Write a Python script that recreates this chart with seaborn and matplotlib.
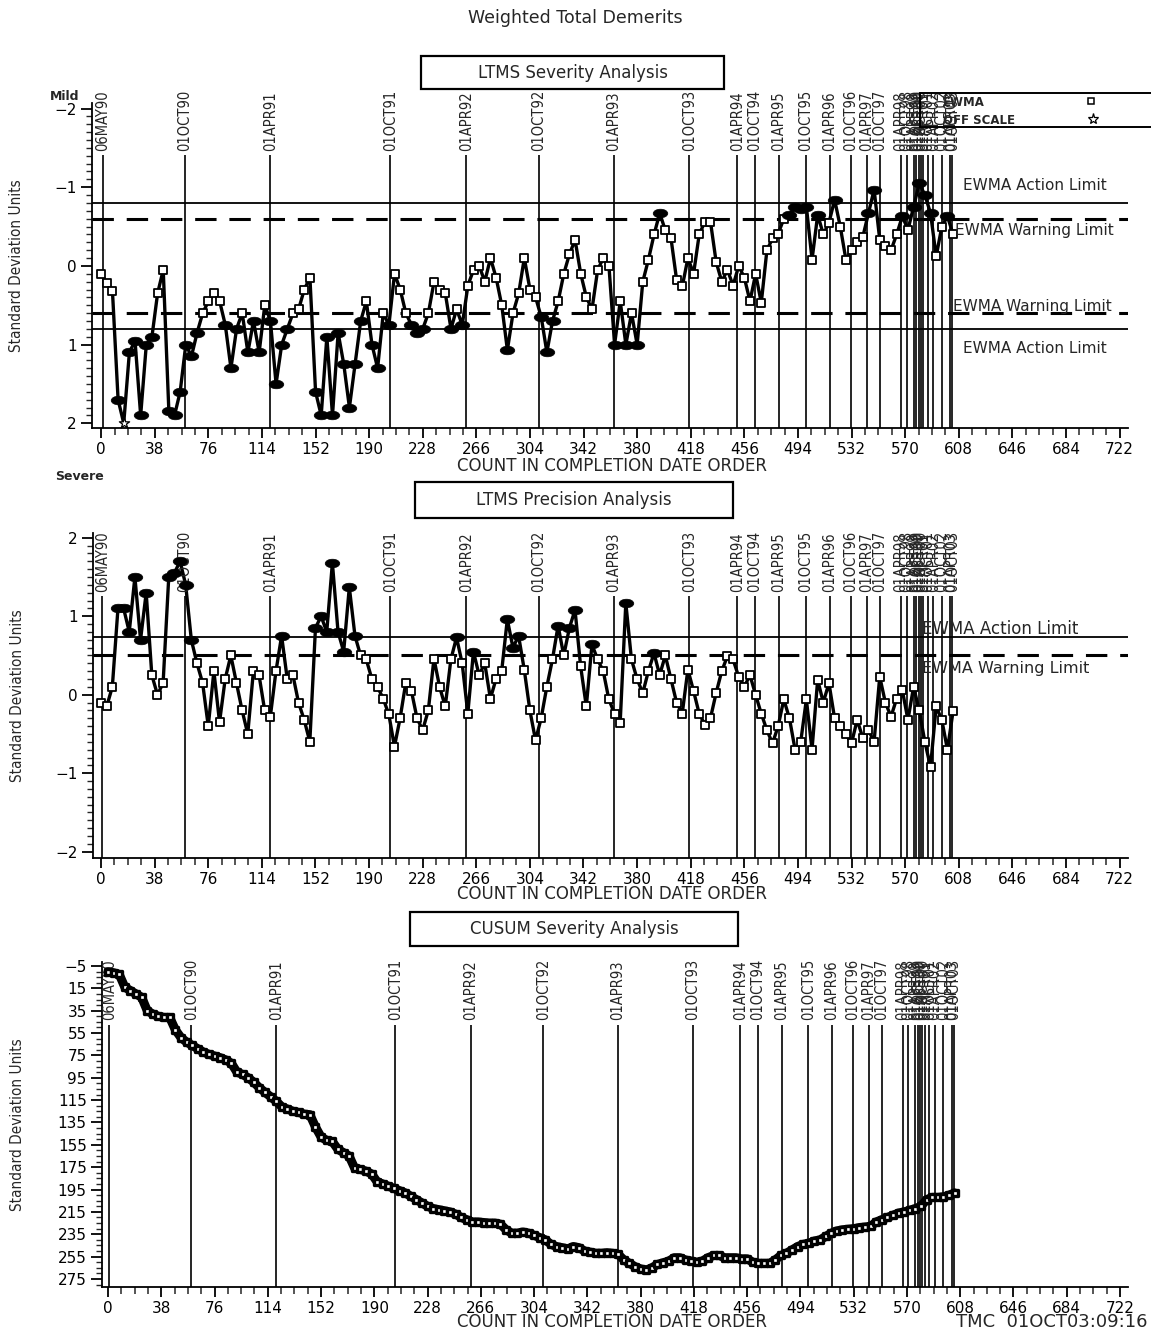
import matplotlib
matplotlib.use("Agg")
import matplotlib.pyplot as plt
import seaborn as sns
from matplotlib import font_manager as fm
from matplotlib.patches import Rectangle
from matplotlib.path import Path
from matplotlib.transforms import Affine2D
from matplotlib.lines import Line2D
from matplotlib.ticker import MultipleLocator, AutoMinorLocator

# ======================
# DATA
# ======================

# count in completion date order (one value every 4 tests)
count = list(range(0, 605, 4))

# LTMS severity EWMA (standard deviation units)
severity = [
    0.1, 0.22, 0.32, 1.7, 2.0, 1.1, 0.95, 1.9, 1.0, 0.9,
    0.35, 0.05, 1.85, 1.9, 1.6, 1.0, 1.15, 0.85, 0.6, 0.45,
    0.35, 0.45, 0.75, 1.3, 0.8, 0.6, 1.1, 0.7, 1.1, 0.5,
    0.7, 1.5, 1.0, 0.8, 0.6, 0.55, 0.3, 0.15, 1.6, 1.9,
    0.9, 1.9, 0.85, 1.25, 1.8, 1.25, 0.7, 0.45, 1.0, 1.3,
    0.6, 0.75, 0.1, 0.3, 0.6, 0.75, 0.85, 0.8, 0.6, 0.2,
    0.3, 0.35, 0.8, 0.55, 0.75, 0.25, 0.05, 0.0, 0.2, -0.1,
    0.15, 0.5, 1.07, 0.6, 0.35, -0.1, 0.3, 0.4, 0.65, 1.1,
    0.7, 0.45, 0.1, -0.15, -0.33, 0.1, 0.4, 0.55, 0.05, -0.1,
    0.0, 1.0, 0.45, 1.0, 0.6, 1.0, 0.2, -0.08, -0.4, -0.67,
    -0.45, -0.35, 0.18, 0.26, -0.1, 0.1, -0.4, -0.56, -0.56, -0.05,
    0.2, 0.05, 0.25, 0.0, 0.15, 0.45, 0.1, 0.47, -0.2, -0.35,
    -0.41, -0.6, -0.65, -0.75, -0.72, -0.75, -0.08, -0.65, -0.4, -0.55,
    -0.84, -0.5, -0.08, -0.2, -0.3, -0.37, -0.67, -0.97, -0.33, -0.25,
    -0.2, -0.4, -0.63, -0.46, -0.75, -1.05, -0.9, -0.67, -0.12, -0.5,
    -0.63, -0.4,
]

# LTMS precision EWMA
precision = [
    -0.1, -0.15, 0.1, 1.1, 1.1, 0.8, 1.5, 0.7, 1.3, 0.25,
    0.0, 0.15, 1.5, 1.55, 1.7, 1.4, 0.7, 0.4, 0.15, -0.4,
    0.3, -0.35, 0.2, 0.5, 0.15, -0.2, -0.5, 0.3, 0.25, -0.2,
    -0.28, 0.3, 0.75, 0.2, 0.25, -0.1, -0.32, -0.6, 0.85, 1.0,
    0.8, 1.68, 0.8, 0.55, 1.37, 0.75, 0.5, 0.45, 0.2, 0.1,
    -0.05, -0.25, -0.66, -0.3, 0.15, 0.05, -0.3, -0.45, -0.2, 0.46,
    0.1, -0.15, 0.45, 0.73, 0.4, -0.24, 0.55, 0.25, 0.4, -0.05,
    0.2, 0.3, 0.96, 0.6, 0.75, 0.32, -0.2, -0.58, -0.3, 0.1,
    0.45, 0.88, 0.5, 0.85, 1.08, 0.36, -0.15, 0.64, 0.45, 0.3,
    -0.06, -0.24, -0.36, 1.17, 0.45, 0.2, 0.02, 0.3, 0.53, 0.25,
    0.5, 0.2, -0.1, -0.24, 0.32, 0.05, -0.24, -0.38, -0.3, 0.02,
    0.3, 0.49, 0.45, 0.23, 0.1, 0.25, 0.0, -0.24, -0.45, -0.62,
    -0.4, -0.06, -0.3, -0.7, -0.6, -0.06, -0.7, 0.19, -0.1, 0.15,
    -0.3, -0.4, -0.5, -0.62, -0.32, -0.55, -0.45, -0.6, 0.23, -0.1,
    -0.28, -0.05, 0.06, -0.32, 0.1, -0.2, -0.6, -0.92, -0.15, -0.32,
    -0.7, -0.21,
]

# CUSUM severity
cusum = [
    0, 1, 2.5, 14, 17, 20, 23, 35, 38, 40,
    41, 41, 52, 59, 63, 66, 69, 72, 74, 75.5,
    77, 79, 82, 90, 92, 95, 99, 104, 108, 112,
    116, 121, 123, 125, 126, 127.5, 128, 139, 148, 151,
    152, 159, 162, 165, 176, 177, 178.5, 181, 188, 190,
    192, 194, 196, 198, 201, 204, 207, 210, 212, 213,
    214, 215, 217, 220, 222, 224, 224, 224.5, 225, 225,
    226, 231, 234, 234, 233, 234, 236, 238, 240, 244,
    246, 247, 248, 246, 247, 250, 251, 252, 252, 251.5,
    252, 253, 258, 261, 264, 266, 267, 265, 262, 260.5,
    259, 256, 256, 258, 259, 260, 259, 256, 254, 254,
    256, 256, 256, 257, 257, 260, 261, 261, 261, 258,
    254, 252, 249, 246, 244, 243, 241, 240, 237, 234,
    232, 231, 230.5, 230, 229, 228.5, 228, 224, 222, 220,
    218, 216, 215, 213.5, 212, 210, 204, 202, 202, 201.5,
    200, 198,
]

# reference dates (count position of each date line)
date_labels = ["06MAY90", "01OCT90", "01APR91", "01OCT91", "01APR92", "01OCT92",
               "01APR93", "01OCT93", "01APR94", "01OCT94", "01APR95", "01OCT95",
               "01APR96", "01OCT96", "01APR97", "01OCT97", "01APR98", "01OCT98",
               "01APR99", "01OCT99", "01APR00", "01OCT00", "01APR01", "01OCT01",
               "01APR02", "01OCT02", "01APR03", "01OCT03"]
date_counts = [1, 59.5, 120, 205, 259, 310.5, 363.5, 417, 451, 463.5, 480.5, 499.5,
               516.5, 531.5, 543, 552, 567, 571, 576, 578, 579.5, 581, 583, 586,
               590, 596, 602, 603.5]

sev_action, sev_warning = 0.8, 0.6
prec_action, prec_warning = 0.74, 0.5

# ======================
# STYLE
# ======================

sns.set_style("ticks")
plt.rcParams['font.family'] = ['DejaVu Sans']

names = {f.name for f in fm.fontManager.ttflist}
if 'Liberation Sans Narrow' in names:
    NARROW = dict(family='Liberation Sans Narrow')
else:
    NARROW = dict(family='DejaVu Sans', stretch='condensed')

W, H = 1151, 1332
fig = plt.figure(figsize=(W / 100, H / 100), dpi=100)


def fx(px):
    return px / W


def fy(py):
    return 1 - py / H


def make_axes(left, right, top, bottom):
    return fig.add_axes([fx(left), fy(bottom), (right - left) / W, (bottom - top) / H])


ellipse = Path.unit_circle().transformed(Affine2D().scale(1.7, 1.0))


def style_axes(ax, ymajor, yminor):
    sns.despine(ax=ax)
    for s in ("left", "bottom"):
        ax.spines[s].set_linewidth(1.3)
        ax.spines[s].set_color("black")
    ax.xaxis.set_major_locator(MultipleLocator(38))
    ax.xaxis.set_minor_locator(AutoMinorLocator(4))
    ax.yaxis.set_major_locator(MultipleLocator(ymajor))
    ax.yaxis.set_minor_locator(AutoMinorLocator(yminor))
    ax.tick_params(axis="x", which="major", direction="out", length=7, width=1.3,
                   labelsize=11, pad=3, colors="black")
    ax.tick_params(axis="x", which="minor", direction="out", length=5, width=1.1)
    ax.tick_params(axis="y", which="major", direction="out", length=8, width=1.3,
                   labelsize=11, pad=3, colors="black")
    ax.tick_params(axis="y", which="minor", direction="out", length=4, width=1.0)
    ax.set_xlabel("")
    ax.set_ylabel("Standard Deviation Units", fontsize=11, **NARROW)
    ax.yaxis.set_label_coords(-0.066, 0.5)
    ax.set_facecolor("white")


def date_lines(ax, line_top, label_base, y_bottom):
    ax.vlines(date_counts, line_top, y_bottom, colors="black", lw=1.2, zorder=1)
    for lab, c in zip(date_labels, date_counts):
        ax.text(c, label_base, lab, rotation=90, ha="center", va="bottom",
                fontsize=10.5, clip_on=False, **NARROW)


def draw_series(ax, values, warn_hi, warn_lo):
    sns.lineplot(x=count, y=values, ax=ax, color="black", lw=2.4,
                 estimator=None, sort=False, zorder=2)
    inside = [(c, v) for c, v in zip(count, values) if warn_lo <= v <= warn_hi]
    beyond = [(c, v) for c, v in zip(count, values)
              if (v > warn_hi or v < warn_lo) and abs(v) < 2]
    off = [(c, v) for c, v in zip(count, values) if abs(v) >= 2]
    if inside:
        sns.scatterplot(x=[p[0] for p in inside], y=[p[1] for p in inside], ax=ax,
                        marker="s", s=28, color="white", edgecolor="black",
                        linewidth=1.3, zorder=3)
    if beyond:
        sns.scatterplot(x=[p[0] for p in beyond], y=[p[1] for p in beyond], ax=ax,
                        marker=ellipse, s=110, color="black", edgecolor="black",
                        linewidth=0.5, zorder=3)
    if off:
        sns.scatterplot(x=[p[0] for p in off], y=[p[1] for p in off], ax=ax,
                        marker="*", s=60, color="white", edgecolor="black",
                        linewidth=0.9, zorder=4, clip_on=False)


def title_box(text, left, right, top, bottom):
    fig.patches.append(Rectangle((fx(left), fy(bottom)), (right - left) / W,
                                 (bottom - top) / H, transform=fig.transFigure,
                                 fill=False, ec="black", lw=1.6))
    fig.text(fx((left + right) / 2), fy((top + bottom) / 2), text,
             ha="center", va="center", fontsize=12)


DASH = (0, (7, 4.2))

# ======================
# PANEL 1 - LTMS SEVERITY
# ======================

ax1 = make_axes(92, 1128, 103, 428)
ax1.set_xlim(-6.5, 728)
ax1.set_ylim(2.06, -2.07)
style_axes(ax1, 1, 10)
date_lines(ax1, -1.41, -1.46, 2.06)
for v in (-sev_action, sev_action):
    ax1.axhline(v, color="black", lw=1.3, zorder=1)
for v in (-sev_warning, sev_warning):
    ax1.axhline(v, color="black", lw=2.2, ls=DASH, zorder=1)
draw_series(ax1, severity, sev_warning, -sev_warning)

fig.text(fx(963), fy(186), "EWMA Action Limit", ha="left", va="center", fontsize=11)
fig.text(fx(955), fy(230), "EWMA Warning Limit", ha="left", va="center", fontsize=11)
fig.text(fx(953), fy(306), "EWMA Warning Limit", ha="left", va="center", fontsize=11)
fig.text(fx(963), fy(349), "EWMA Action Limit", ha="left", va="center", fontsize=11)
fig.text(fx(612), fy(466), "COUNT IN COMPLETION DATE ORDER", ha="center", va="center",
         fontsize=12)
fig.text(fx(50), fy(96), "Mild", ha="left", va="center", fontsize=9, fontweight="bold")
fig.text(fx(55), fy(477), "Severe", ha="left", va="center", fontsize=9, fontweight="bold")

# legend
fig.patches.append(Rectangle((fx(920), fy(127)), (1152 - 920) / W, 34 / H,
                             transform=fig.transFigure, fill=False, ec="black", lw=1.4))
fig.text(fx(943), fy(102), "EWMA", ha="left", va="center", fontsize=8.5, fontweight="bold")
fig.text(fx(943), fy(120), "OFF SCALE", ha="left", va="center", fontsize=8.5,
         fontweight="bold")
fig.add_artist(Line2D([fx(1091)], [fy(101)], marker="s", ms=5, mfc="white", mec="black",
                      mew=1.1, transform=fig.transFigure))
fig.add_artist(Line2D([fx(1093)], [fy(119)], marker="*", ms=8, mfc="white", mec="black",
                      mew=0.9, transform=fig.transFigure))

# ======================
# PANEL 2 - LTMS PRECISION
# ======================

ax2 = make_axes(93, 1128, 533, 858)
ax2.set_xlim(-5.7, 728)
ax2.set_ylim(-2.08, 2.06)
style_axes(ax2, 1, 10)
date_lines(ax2, 1.26, 1.31, -2.08)
ax2.axhline(prec_action, color="black", lw=1.3, zorder=1)
ax2.axhline(prec_warning, color="black", lw=2.2, ls=DASH, zorder=1)
draw_series(ax2, precision, prec_warning, -5)

fig.text(fx(922), fy(629), "EWMA Action Limit", ha="left", va="center", fontsize=12)
fig.text(fx(922), fy(668), "EWMA Warning Limit", ha="left", va="center", fontsize=11.5)
fig.text(fx(612), fy(894), "COUNT IN COMPLETION DATE ORDER", ha="center", va="center",
         fontsize=12)

# ======================
# PANEL 3 - CUSUM SEVERITY
# ======================

ax3 = make_axes(102, 1128, 962, 1287)
ax3.set_xlim(-4.3, 727.7)
ax3.set_ylim(282.2, -8.6)
style_axes(ax3, 20, 4)
ax3.set_yticks(list(range(-5, 276, 20)))
ax3.yaxis.set_label_coords(-0.075, 0.5)
date_lines(ax3, 47.8, 43.5, 282.2)
sns.lineplot(x=count, y=cusum, ax=ax3, color="black", lw=6.5, estimator=None,
             sort=False, zorder=2)
sns.scatterplot(x=count, y=cusum, ax=ax3, marker="s", s=22, color="white",
                edgecolor="black", linewidth=2.4, zorder=3)

fig.text(fx(612), fy(1322), "COUNT IN COMPLETION DATE ORDER", ha="center", va="center",
         fontsize=12)
fig.text(fx(1148), fy(1322), "TMC  01OCT03:09:16", ha="right", va="center", fontsize=13)

# ======================
# TITLES
# ======================

fig.text(fx(575), fy(18), "Weighted Total Demerits", ha="center", va="center", fontsize=12.5)
title_box("LTMS Severity Analysis", 421, 724, 56, 89)
title_box("LTMS Precision Analysis", 415, 733, 482, 518)
title_box("CUSUM Severity Analysis", 410, 738, 912, 946)

plt.savefig("out.png", dpi=100)
